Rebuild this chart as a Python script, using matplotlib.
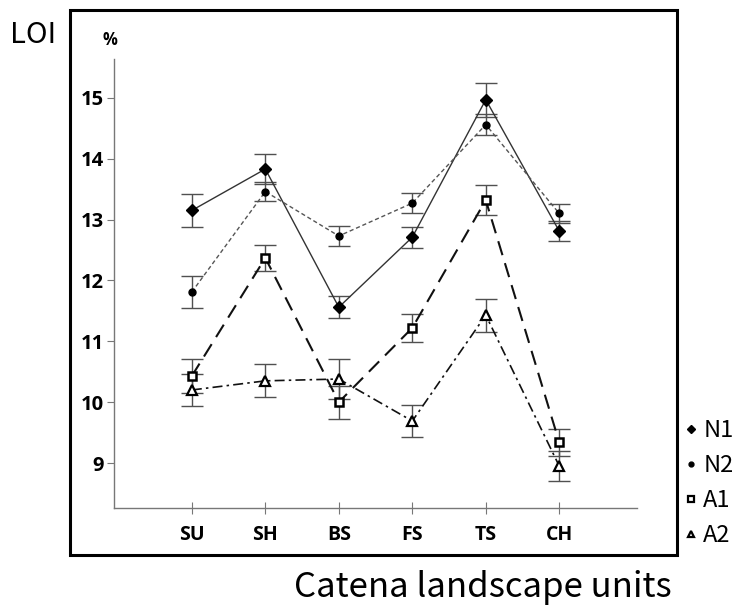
import matplotlib
matplotlib.use("Agg")
import matplotlib.pyplot as plt
from matplotlib.patches import Rectangle
import numpy as np

units = ["SU", "SH", "BS", "FS", "TS", "CH"]

n1 = [13.15, 13.83, 11.56, 12.71, 14.97, 12.81]
n1_err = [0.27, 0.25, 0.18, 0.17, 0.28, 0.17]
n2 = [11.81, 13.46, 12.73, 13.27, 14.56, 13.10]
n2_err = [0.26, 0.16, 0.17, 0.17, 0.17, 0.16]
a1 = [10.43, 12.37, 10.00, 11.22, 13.32, 9.34]
a1_err = [0.28, 0.22, 0.27, 0.23, 0.25, 0.22]
a2 = [10.20, 10.35, 10.38, 9.69, 11.43, 8.95]
a2_err = [0.27, 0.27, 0.33, 0.27, 0.27, 0.25]

y_ticks = [9, 10, 11, 12, 13, 14, 15]

fig = plt.figure(figsize=(7.4, 6.07), dpi=100)
ax = fig.add_axes([0.154, 0.163, 0.707, 0.740])
x = np.arange(len(units))

series = [
    ("N1", n1, n1_err, dict(color="#333333", lw=1.0, ls="-", marker="D", ms=6.5,
                           mfc="black", mec="black")),
    ("N2", n2, n2_err, dict(color="#555555", lw=1.0, ls=(0, (3, 2)), marker="o", ms=5,
                           mfc="black", mec="black")),
    ("A1", a1, a1_err, dict(color="#111111", lw=1.5, ls=(0, (7, 4)), marker="s", ms=6,
                           mfc="white", mec="black", mew=1.8)),
    ("A2", a2, a2_err, dict(color="#111111", lw=1.2, ls=(0, (6, 2.5, 1.5, 2.5)), marker="^", ms=7,
                           mfc="white", mec="black", mew=1.6)),
]

for name, vals, errs, st in series:
    ax.errorbar(x, vals, yerr=errs, fmt="none", ecolor="#505050", elinewidth=1.0,
                capsize=8, capthick=1.0, zorder=2)
    ax.plot(x, vals, zorder=3, **st)

ax.set_xlim(-1.06, 6.06)
ax.set_ylim(8.26, 15.64)
ax.set_xticks(x)
ax.set_xticklabels(units, fontsize=14, fontweight="bold", family="Open Sans")
ax.set_yticks(y_ticks)
ax.set_yticklabels([str(t) for t in y_ticks], fontsize=14.5, fontweight="bold",
                   family="Open Sans")
for s in ["top", "right"]:
    ax.spines[s].set_visible(False)
for s in ["left", "bottom"]:
    ax.spines[s].set_color("#777777")
    ax.spines[s].set_linewidth(1.0)
ax.tick_params(axis="x", direction="inout", length=8, color="#777777", pad=8)
ax.tick_params(axis="y", direction="out", length=5, color="#777777", pad=2)

fig.patches.append(Rectangle((70 / 740, 1 - 555 / 607), 607 / 740, 545 / 607,
                             transform=fig.transFigure, fill=False, lw=2.2,
                             ec="black"))

fig.text(10 / 740, 1 - 43 / 607, "LOI", fontsize=21, family="Noto Sans CJK KR",
         va="baseline", ha="left")
fig.text(110 / 740, 1 - 45 / 607, "%", fontsize=12, fontweight="bold",
         family="Open Sans", va="baseline", ha="center")
fig.text(672 / 740, 1 - 597 / 607, "Catena landscape units", fontsize=25,
         family="Noto Sans CJK KR", va="baseline", ha="right")

legend_ms = [4.5, 3.5, 4.2, 5]
handles = []
for (name, vals, errs, st), m in zip(series, legend_ms):
    h, = ax.plot([], [], ls="none", marker=st["marker"], ms=m,
                 mfc=st["mfc"], mec=st["mec"], mew=1.6 if st["mfc"] == "white" else 1.0)
    handles.append(h)
fig.legend(handles, [s[0] for s in series], loc="upper left",
           bbox_to_anchor=(676 / 740, 1 - 410 / 607), frameon=False,
           handlelength=0.45, handletextpad=0.3, labelspacing=0.5,
           prop={"family": "Noto Sans CJK KR", "size": 17}, borderaxespad=0)

fig.savefig("out.png", dpi=100)
